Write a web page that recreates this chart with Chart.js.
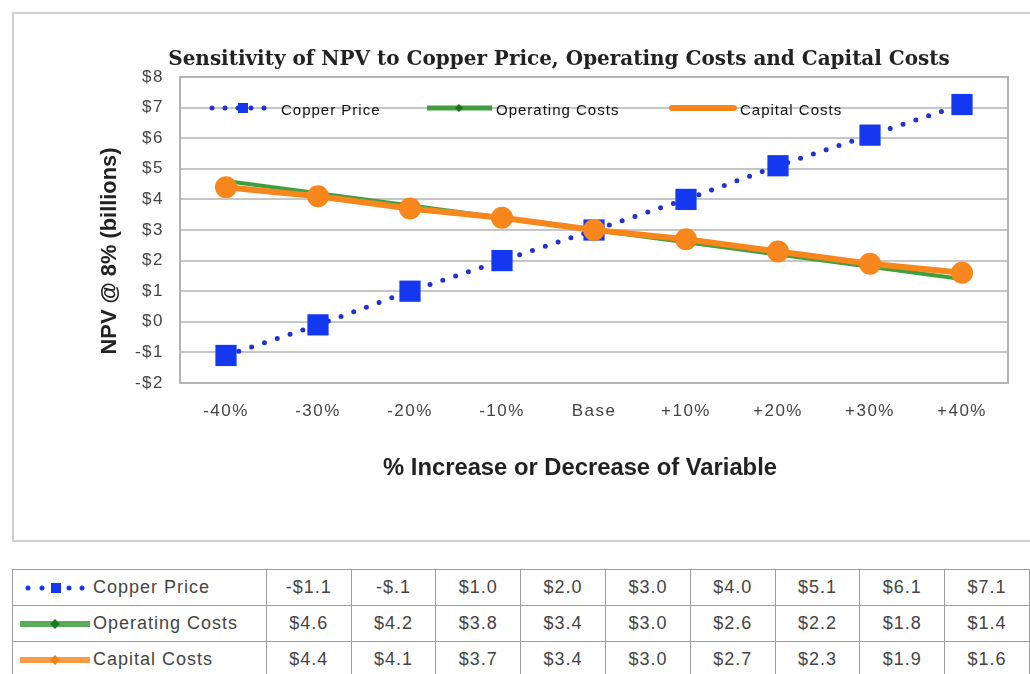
<!DOCTYPE html>
<html>
<head>
<meta charset="utf-8">
<script src="https://cdn.jsdelivr.net/npm/chart.js@4.4.1/dist/chart.umd.min.js"></script>
<style>
  body { margin: 0; background: #fff; width: 1030px; height: 674px; overflow: hidden; position: relative; }
  #frame { position: absolute; left: 12px; top: 12px; width: 1040px; height: 530px;
           border: 2px solid #cfcfcf; box-sizing: border-box; }
  #wrap { position: absolute; left: 0; top: 0; width: 1030px; height: 545px; }
  #dataTable { position: absolute; left: 12px; top: 569px; border-collapse: collapse;
               font-family: "Liberation Sans", Arial, sans-serif; font-size: 18px;
               letter-spacing: 1px; color: #444; table-layout: fixed; }
  #dataTable td { border: 1px solid #9c9c9c; height: 35px; padding: 0; text-align: center; }
  #dataTable td.name { text-align: left; padding-left: 7px; white-space: nowrap; }
  #dataTable td.name svg { vertical-align: middle; margin-right: 3px; }
</style>
</head>
<body>
<div id="frame"></div>
<div id="wrap"><canvas id="chart"></canvas></div>
<table id="dataTable"></table>
<script>
"use strict";

// chart data
var categories = ['-40%', '-30%', '-20%', '-10%', 'Base', '+10%', '+20%', '+30%', '+40%'];
var seriesNames = ['Copper Price', 'Operating Costs', 'Capital Costs'];
var copperPrice = [-1.1, -0.1, 1.0, 2.0, 3.0, 4.0, 5.1, 6.1, 7.1];
var operatingCosts = [4.6, 4.2, 3.8, 3.4, 3.0, 2.6, 2.2, 1.8, 1.4];
var capitalCosts = [4.4, 4.1, 3.7, 3.4, 3.0, 2.7, 2.3, 1.9, 1.6];
var yMin = -2, yMax = 8, yStep = 1;

var BLUE = '#1438f0', DOTS = '#2232cc', GREEN = '#3f9f3f', ORANGE = '#f7861c';

function tickMoney(v) {
    return (v < 0 ? '-$' : '$') + Math.abs(v);
}
function tableMoney(v) {
    return (v < 0 ? '-$' : '$') + Math.abs(v).toFixed(1).replace(/^0/, '');
}

// fit a text into a given length by scaling the font size
function fitFont(ctx, text, weight, family, base, target) {
    ctx.font = weight + ' ' + base + 'px ' + family;
    var w = ctx.measureText(text).width;
    return weight + ' ' + (base * target / w).toFixed(2) + 'px ' + family;
}

var decorPlugin = {
    id: 'decor',
    beforeLayout: function (chart) { chart.ctx.letterSpacing = '1.5px'; },
    beforeDraw: function (chart) { chart.ctx.letterSpacing = '1.5px'; },
    beforeDatasetsDraw: function (chart) {
        var ctx = chart.ctx, a = chart.chartArea;
        ctx.save();
        ctx.strokeStyle = '#b4b4b4';
        ctx.lineWidth = 2;
        ctx.strokeRect(a.left, a.top, a.right - a.left, a.bottom - a.top);
        ctx.restore();
    },
    afterDraw: function (chart) {
        var ctx = chart.ctx;
        ctx.save();
        ctx.letterSpacing = '0px';
        ctx.fillStyle = '#222';
        ctx.textAlign = 'center';
        ctx.textBaseline = 'middle';

        // title
        var title = 'Sensitivity of NPV to Copper Price, Operating Costs and Capital Costs';
        ctx.font = fitFont(ctx, title, 'bold', '"DejaVu Serif"', 18, 782);
        ctx.fillText(title, 559, 60);

        // axis titles
        var xTitle = '% Increase or Decrease of Variable';
        ctx.font = fitFont(ctx, xTitle, 'bold', '"Liberation Sans"', 17, 394);
        ctx.fillText(xTitle, 580, 468);

        var yTitle = 'NPV @ 8% (billions)';
        ctx.font = fitFont(ctx, yTitle, 'bold', '"Liberation Sans"', 17, 207);
        ctx.translate(110, 251);
        ctx.rotate(-Math.PI / 2);
        ctx.fillText(yTitle, 0, 0);
        ctx.restore();

        // legend inside the plot
        ctx.save();
        var ly = 108;
        // copper
        ctx.strokeStyle = DOTS;
        ctx.lineWidth = 5;
        ctx.lineCap = 'round';
        ctx.setLineDash([0, 13]);
        ctx.beginPath(); ctx.moveTo(212, ly); ctx.lineTo(273, ly); ctx.stroke();
        ctx.setLineDash([]);
        ctx.fillStyle = BLUE;
        ctx.fillRect(238, ly - 5, 10, 10);
        // operating
        ctx.strokeStyle = GREEN; ctx.lineWidth = 5; ctx.lineCap = 'butt';
        ctx.beginPath(); ctx.moveTo(427, ly); ctx.lineTo(492, ly); ctx.stroke();
        ctx.fillStyle = '#1f6f1f';
        ctx.beginPath(); ctx.moveTo(459, ly - 4); ctx.lineTo(463, ly); ctx.lineTo(459, ly + 4); ctx.lineTo(455, ly); ctx.fill();
        // capital
        ctx.strokeStyle = ORANGE; ctx.lineWidth = 6; ctx.lineCap = 'round';
        ctx.beginPath(); ctx.moveTo(672, ly); ctx.lineTo(734, ly); ctx.stroke();

        ctx.fillStyle = '#111';
        ctx.font = '15px "Liberation Sans"';
        ctx.letterSpacing = '1px';
        ctx.textAlign = 'left';
        ctx.textBaseline = 'middle';
        ctx.fillText(seriesNames[0], 281, ly + 3);
        ctx.fillText(seriesNames[1], 496, ly + 3);
        ctx.fillText(seriesNames[2], 740, ly + 3);
        ctx.restore();
    }
};

new Chart(document.getElementById('chart'), {
    type: 'line',
    data: {
        labels: categories,
        datasets: [{
            label: seriesNames[0],
            data: copperPrice,
            order: 2,
            borderColor: DOTS,
            backgroundColor: BLUE,
            borderWidth: 5,
            borderDash: [0, 13.5],
            borderCapStyle: 'round',
            pointStyle: 'rect',
            pointRadius: 15,
            pointBorderWidth: 0,
            tension: 0
        }, {
            label: seriesNames[1],
            data: operatingCosts,
            order: 1,
            borderColor: GREEN,
            backgroundColor: '#1f6f1f',
            borderWidth: 4,
            pointStyle: 'rectRot',
            pointRadius: 4,
            pointBorderWidth: 0,
            tension: 0
        }, {
            label: seriesNames[2],
            data: capitalCosts,
            order: 0,
            borderColor: ORANGE,
            backgroundColor: ORANGE,
            borderWidth: 6,
            pointStyle: 'circle',
            pointRadius: 11,
            pointBorderWidth: 0,
            tension: 0
        }]
    },
    options: {
        responsive: true,
        maintainAspectRatio: false,
        animation: false,
        layout: { padding: { top: 77, right: 22, left: 0, bottom: 0 } },
        plugins: {
            legend: { display: false },
            title: { display: false },
            tooltip: { enabled: false }
        },
        scales: {
            x: {
                offset: true,
                grid: { display: false, drawTicks: false },
                border: { display: false },
                ticks: {
                    color: '#444',
                    padding: 18,
                    font: { family: '"Liberation Sans"', size: 17 }
                },
                afterFit: function (scale) { scale.height = 162; }
            },
            y: {
                min: yMin,
                max: yMax,
                grid: { color: '#c6c6c6', lineWidth: 2, drawTicks: false },
                border: { display: false },
                ticks: {
                    stepSize: yStep,
                    color: '#444',
                    padding: 16,
                    font: { family: '"Liberation Sans"', size: 17 },
                    callback: function (v) { return tickMoney(v); }
                },
                afterFit: function (scale) { scale.width = 180; }
            }
        }
    },
    plugins: [decorPlugin]
});

// data table under the chart
var symbols = [
    '<svg width="70" height="20"><g fill="' + BLUE + '"><circle cx="8" cy="10" r="2.5"/><circle cx="22" cy="10" r="2.5"/>' +
        '<rect x="31" y="5" width="10" height="10"/><circle cx="49" cy="10" r="2.5"/><circle cx="62" cy="10" r="2.5"/></g></svg>',
    '<svg width="70" height="20"><line x1="1" y1="10" x2="69" y2="10" stroke="#5aab5a" stroke-width="6" stroke-linecap="round"/>' +
        '<path d="M35 5 L40 10 L35 15 L30 10 Z" fill="#1f7a1f"/></svg>',
    '<svg width="70" height="20"><line x1="1" y1="10" x2="69" y2="10" stroke="#f79a45" stroke-width="6" stroke-linecap="round"/>' +
        '<path d="M35 5 L40 10 L35 15 L30 10 Z" fill="#f0801c"/></svg>'
];
var rows = [copperPrice, operatingCosts, capitalCosts];
var html = '<colgroup><col style="width:254px">';
for (var c = 0; c < categories.length; c++) { html += '<col style="width:85px">'; }
html += '</colgroup>';
rows.forEach(function (values, i) {
    html += '<tr><td class="name">' + symbols[i] + seriesNames[i] + '</td>';
    values.forEach(function (v) { html += '<td>' + tableMoney(v) + '</td>'; });
    html += '</tr>';
});
document.getElementById('dataTable').innerHTML = html;
</script>
</body>
</html>
